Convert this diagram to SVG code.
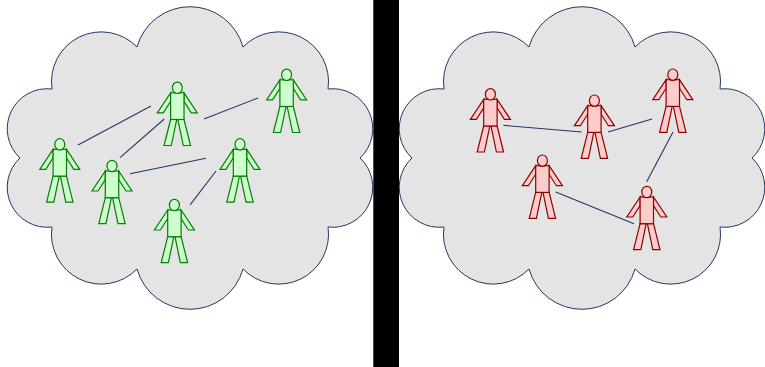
<svg xmlns="http://www.w3.org/2000/svg" width="765" height="367" viewBox="0 0 765 367">
  <style>
    .cloud { fill: #e4e4e4; stroke: #1f3864; stroke-width: 1; }
    .good { fill: #ccffcc; stroke: #008000; stroke-width: 1.2; }
    .bad { fill: #ffcccc; stroke: #8f0000; stroke-width: 1.2; }
    .link { stroke: #1f3864; stroke-width: 1.1; fill: none; }
  </style>
  <defs>
    <path id="cloudShape" d="M52 89 A49.8 49.8 0 0 1 137 47 A55 55 0 0 1 243 47 A49.8 49.8 0 0 1 328 89 A40 40 0 0 1 360 158 A40 40 0 0 1 328 227 A49.8 49.8 0 0 1 243 269 A55 55 0 0 1 137 269 A49.8 49.8 0 0 1 52 227 A40 40 0 0 1 20 158 A40 40 0 0 1 52 89 Z"/>
    <g id="person">
      <path d="M-6.7 0 L-20 20 L-14 20 L-6.7 8.5 Z"/>
      <path d="M6.7 0 L20 20 L14 20 L6.7 8.5 Z"/>
      <path d="M-6.7 26.7 L-13.2 52.7 L-6 52.7 L-0.6 26.7 Z"/>
      <path d="M6.7 26.7 L13.2 52.7 L6 52.7 L0.6 26.7 Z"/>
      <rect x="-6.7" y="0" width="13.4" height="26.7"/>
      <ellipse cx="0" cy="-5" rx="5" ry="5.7"/>
    </g>
  </defs>
  <rect id="bar" x="373.3" y="0" width="25.7" height="367" fill="#000"/>
  <g id="cloud-left"><use href="#cloudShape" class="cloud"/></g>
  <g id="cloud-right"><use href="#cloudShape" class="cloud" x="392"/></g>
  <g id="connectors" class="link">
    <line x1="78" y1="145" x2="151" y2="106"/>
    <line x1="120" y1="157.7" x2="164.3" y2="119"/>
    <line x1="130" y1="173.7" x2="206" y2="158.3"/>
    <line x1="190.3" y1="204.7" x2="216" y2="171"/>
    <line x1="204" y1="119" x2="258" y2="98"/>
    <line x1="503.3" y1="125.3" x2="581.7" y2="132"/>
    <line x1="608" y1="132" x2="652" y2="119"/>
    <line x1="673" y1="132" x2="646.7" y2="181.7"/>
    <line x1="555.7" y1="192" x2="634" y2="223.7"/>
  </g>
  <g id="green-1" class="good"><use href="#person" x="59.8" y="149.4"/></g>
  <g id="green-2" class="good"><use href="#person" x="177.3" y="92.8"/></g>
  <g id="green-3" class="good"><use href="#person" x="112" y="171"/></g>
  <g id="green-4" class="good"><use href="#person" x="174.4" y="210"/></g>
  <g id="green-5" class="good"><use href="#person" x="240" y="149.4"/></g>
  <g id="green-6" class="good"><use href="#person" x="286.6" y="79.8"/></g>
  <g id="red-1" class="bad"><use href="#person" x="490.4" y="99.3"/></g>
  <g id="red-2" class="bad"><use href="#person" x="594.4" y="105.7"/></g>
  <g id="red-3" class="bad"><use href="#person" x="672.8" y="79.7"/></g>
  <g id="red-4" class="bad"><use href="#person" x="542.4" y="165.7"/></g>
  <g id="red-5" class="bad"><use href="#person" x="646.8" y="197"/></g>
</svg>
